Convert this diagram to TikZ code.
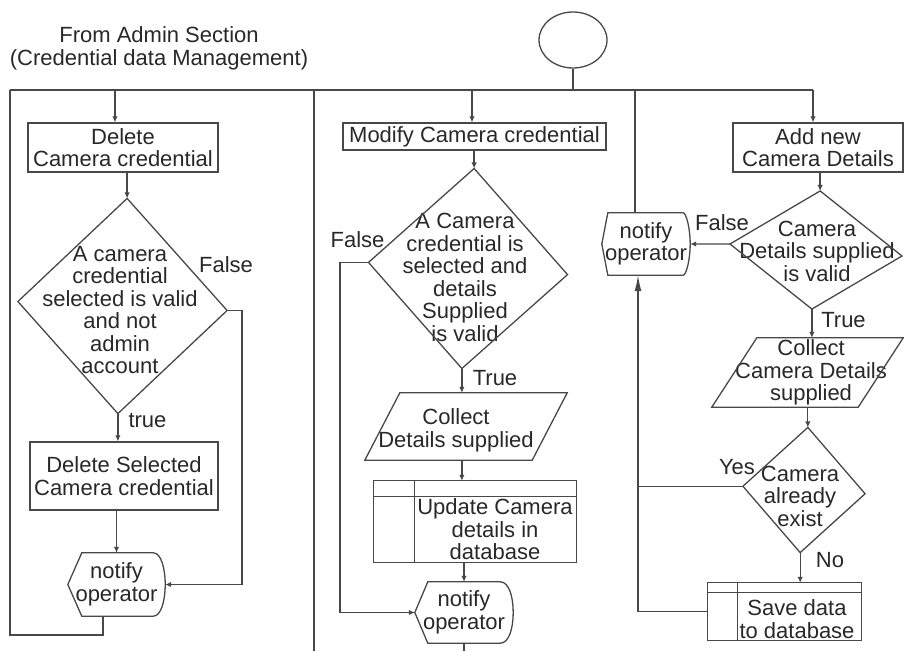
\documentclass[tikz,border=0pt]{standalone}
\usepackage{fontspec}
\setmainfont{Liberation Sans}
\usetikzlibrary{shapes.geometric,arrows.meta,calc}

\definecolor{ink}{RGB}{72,72,72}
\definecolor{txtc}{RGB}{40,40,40}

\tikzset{
  wire/.style={draw=ink, line width=1.3pt},
  arr/.style={wire, -{Latex[length=6pt,width=5.5pt]}},
  bigarr/.style={wire, -{Latex[length=16pt,width=7pt]}},
  procbox/.style={rectangle, draw=ink, line width=1.3pt, inner sep=0pt, align=center, text=txtc},
  shapenode/.style={rectangle, draw=none, inner sep=0pt, align=center, text=txtc},
  txt/.style={inner sep=0pt, align=center, text=txtc},
}

% decision: diamond through the four side midpoints of the node
\newcommand{\decisionoutline}[1]{%
  \draw[wire] (#1.north) -- (#1.east) -- (#1.south) -- (#1.west) -- cycle;}
% input/output: parallelogram, slant given in pt
\newcommand{\ioshape}[2]{%
  \draw[wire] ([xshift=#2pt]#1.north west) -- (#1.north east)
    -- ([xshift=-#2pt]#1.south east) -- (#1.south west) -- cycle;}
% stored data: box with a header strip and a side strip
\newcommand{\storeshape}[3]{%
  \draw[wire] (#1.north west) rectangle (#1.south east);
  \draw[wire] ([yshift=-#2pt]#1.north west) -- ([yshift=-#2pt]#1.north east);
  \draw[wire] ([xshift=#3pt]#1.north west) -- ([xshift=#3pt]#1.south west);}
% display: pointed left side, rounded right side
\newcommand{\displayshape}[3]{%
  \draw[wire] ([xshift=#2pt]#1.north west) -- ([xshift=-#3pt]#1.north east)
    .. controls ($(#1.north east)+(-4,0)$) and ($(#1.east)!0.5!(#1.north east)$) .. (#1.east)
    .. controls ($(#1.east)!0.5!(#1.south east)$) and ($(#1.south east)+(-4,0)$) .. ([xshift=-#3pt]#1.south east)
    -- ([xshift=#2pt]#1.south west) -- (#1.west) -- cycle;}

\begin{document}
\begin{tikzpicture}[x=1pt, y=-1pt, font=\fontsize{22}{22.5}\selectfont]
\useasboundingbox (0,0) rectangle (904,651);

% ---- heading and start
\node[txt] (title) at (159,48.5) {From Admin Section\\(Credential data Management)};
\node[ellipse, draw=ink, line width=1.3pt, minimum width=68pt, minimum height=56pt, inner sep=0pt] (start) at (573,40) {};

% ---- routing points
\coordinate (busL) at (10,90);
\coordinate (busR) at (813,90);
\coordinate (loopL) at (103,635);
\coordinate (sepA) at (314,90);
\coordinate (sepAend) at (314,651);
\coordinate (tapL) at (115,90);
\coordinate (tapM) at (472,90);
\coordinate (tapN) at (635,90);
\coordinate (falseL) at (242,0);
\coordinate (falseM) at (340,0);
\coordinate (backR) at (638,0);
\coordinate (midEnd) at (0,651);

% ---- delete branch
\node[procbox, minimum width=190pt, minimum height=49pt] (delreq) at (123,147.5) {Delete\\Camera credential};
\node[shapenode, minimum width=209pt, minimum height=215pt, rotate=-2.45] (chk1) at (122.5,306) {};
\node[txt] (chk1t) at (120,310) {A camera\\credential\\selected is valid\\and not\\admin\\account};
\node[txt] (chk1f) at (226,265) {False};
\node[txt] (chk1y) at (147.5,420) {true};
\node[procbox, minimum width=188pt, minimum height=68pt] (delsel) at (124,476) {Delete Selected\\Camera credential};
\node[shapenode, minimum width=97pt, minimum height=63pt] (note1) at (116.5,584.5) {notify\\operator};

% ---- modify branch
\node[procbox, minimum width=263pt, minimum height=27pt] (modreq) at (474.5,136.5) {Modify Camera credential};
\node[shapenode, minimum width=199pt, minimum height=200pt, rotate=-3.5] (chk2) at (468,268.5) {};
\node[txt] (chk2t) at (465,277.5) {A Camera\\credential is\\selected and\\details\\Supplied\\is valid};
\node[txt] (chk2f) at (357.5,240) {False};
\node[txt] (chk2y) at (495,378) {True};
\node[shapenode, minimum width=202pt, minimum height=67pt] (get2) at (466,426.5) {};
\node[txt] (get2t) at (456,430.5) {Collect\\Details supplied};
\node[shapenode, minimum width=202pt, minimum height=81pt] (upd) at (475,521.5) {};
\node[txt] (updt) at (495,529.5) {Update Camera\\details in\\database};
\node[shapenode, minimum width=98pt, minimum height=61pt] (note2) at (464,612.5) {notify\\operator};

% ---- add branch
\node[procbox, minimum width=170pt, minimum height=49pt] (addreq) at (818,147.5) {Add new\\Camera Details};
\node[shapenode, minimum width=172pt, minimum height=118pt, rotate=-4] (chk3) at (816,250) {};
\node[txt] (chk3t) at (817,251) {Camera\\Details supplied\\is valid};
\node[txt] (chk3f) at (722,223) {False};
\node[txt] (chk3y) at (843.5,320) {True};
\node[shapenode, minimum width=88pt, minimum height=62pt] (note3) at (646,244) {notify\\operator};
\node[shapenode, minimum width=191pt, minimum height=69pt] (get3) at (807.5,372.5) {};
\node[txt] (get3t) at (811,372.5) {Collect\\Camera Details\\supplied};
\node[shapenode, minimum width=122pt, minimum height=125pt, rotate=-3.5] (chk4) at (804,490) {};
\node[txt] (chk4t) at (800,496) {Camera\\already\\exist};
\node[txt] (chk4y) at (737,467) {Yes};
\node[txt] (chk4n) at (830,560) {No};
\node[shapenode, minimum width=153pt, minimum height=57pt] (save) at (784.5,611.5) {};
\node[txt] (savet) at (797,619) {Save data\\to database};

% ---- outlines of the special symbols
\decisionoutline{chk1}
\decisionoutline{chk2}
\decisionoutline{chk3}
\decisionoutline{chk4}
\ioshape{get2}{35}
\ioshape{get3}{45}
\storeshape{upd}{16}{41}
\storeshape{save}{10}{30}
\displayshape{note1}{14}{12}
\displayshape{note2}{13}{13}
\displayshape{note3}{6}{7}

% ---- common bus
\draw[wire] (start.south) -- (start.south |- busL);
\draw[wire] (busL) -- (busR);
\draw[wire] (sepA) -- (sepAend);

% ---- delete branch connectors
\draw[arr] (tapL) -- (tapL |- delreq.north);
\draw[arr] (chk1.north |- delreq.south) -- (chk1.north);
\draw[arr] (chk1.south) -- (chk1.south |- delsel.north);
\draw[arr] (note1.north |- delsel.south) -- (note1.north);
\draw[arr] (chk1.east) -- (chk1.east -| falseL) -- (falseL |- note1.east) -- (note1.east);
\draw[wire] (note1.south -| loopL) -- (loopL) -- (loopL -| busL) -- (busL);

% ---- modify branch connectors
\draw[arr] (tapM) -- (tapM |- modreq.north);
\draw[arr] (chk2.north |- modreq.south) -- (chk2.north);
\draw[arr] (chk2.south) -- (chk2.south |- get2.north);
\draw[arr] (chk2.south |- get2.south) -- (chk2.south |- upd.north);
\draw[arr] (note2.north |- upd.south) -- (note2.north);
\draw[arr] (chk2.west) -- (chk2.west -| falseM) -- (falseM |- note2.west) -- (note2.west);
\draw[wire] (note2.south) -- (note2.south |- midEnd);

% ---- add branch connectors
\draw[arr] (busR) -- (busR |- addreq.north);
\draw[arr] (chk3.north |- addreq.south) -- (chk3.north);
\draw[wire] (tapN) -- (tapN |- note3.north);
\draw[arr] (chk3.west) -- (note3.east);
\draw[arr] (chk3.south) -- (chk3.south |- get3.north);
\draw[arr] (chk4.north |- get3.south) -- (chk4.north);
\draw[arr] (chk4.south) -- (chk4.south |- save.north);
\draw[wire] (chk4.west) -- (chk4.west -| backR);
\draw[bigarr] (save.west) -- (save.west -| backR) -- (backR |- note3.south);

\end{tikzpicture}
\end{document}
